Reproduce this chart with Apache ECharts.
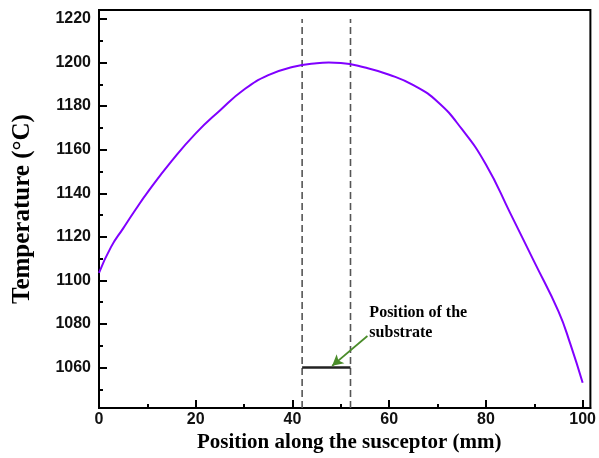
<!DOCTYPE html>
<html>
<head>
<meta charset="utf-8">
<script src="https://cdn.jsdelivr.net/npm/echarts@6/dist/echarts.min.js"></script>
<style>html,body{margin:0;padding:0;background:#fff}#c{width:599px;height:458px}</style>
</head>
<body>
<div id="c"></div>
<script>
// ---- data ----
const positions = [0, 2.5, 5, 7.5, 10, 15, 20, 25, 30, 35, 40, 45, 47.5, 50, 55, 60, 65, 70, 75, 80, 85, 90, 95, 97.5, 100];
const temperatures = [1103.5, 1115.4, 1123.9, 1132.3, 1140.3, 1154.7, 1167.5, 1178.0, 1187.6, 1194.2, 1197.9, 1199.7, 1200.0, 1199.8, 1197.7, 1194.4, 1189.6, 1182.0, 1169.5, 1153.2, 1131.0, 1108.5, 1085.8, 1070.5, 1053.0];
const xTickLabels = [0, 20, 40, 60, 80, 100];
const xMinorTicks = [10, 30, 50, 70, 90];
const yTickLabels = [1060, 1080, 1100, 1120, 1140, 1160, 1180, 1200, 1220];
const yMinorTicks = [1050, 1070, 1090, 1110, 1130, 1150, 1170, 1190, 1210];
const xRange = [0, 101.6];
const yRange = [1041.4, 1224.1];
const substrateEdges = [42, 52];
const substrateLevel = 1060;
const dashedSpan = [1041.4, 1220];
const arrowFrom = [55.5, 1074.5];
const arrowTo = [48.2, 1060.8];
const notePoint = [55.9, 1080.7];
const noteText = 'Position of the\nsubstrate';

const chart = echarts.init(document.getElementById('c'), null, {renderer: 'canvas'});
const sansBold = {fontFamily: 'Liberation Sans, Arial, sans-serif', fontWeight: 'bold', fontSize: 16, color: '#111'};
const serifBold = {fontFamily: 'Liberation Serif, Times New Roman, serif', fontWeight: 'bold', color: '#000'};
const plain = v => String(v);

const dashSeries = substrateEdges.map(x => ({
  type: 'line', data: [[x, dashedSpan[0]], [x, dashedSpan[1]]],
  showSymbol: false, symbol: 'none', silent: true,
  lineStyle: {color: '#555', width: 1.6, type: [7, 4]}
}));

chart.setOption({
  animation: false,
  grid: {left: 99, top: 10, right: 4, bottom: 49, show: true, borderColor: '#000', borderWidth: 2, backgroundColor: 'transparent'},
  xAxis: [{
    type: 'value', min: xRange[0], max: xRange[1],
    name: 'Position along the susceptor (mm)', nameLocation: 'middle', nameGap: 11,
    nameTextStyle: Object.assign({}, serifBold, {fontSize: 21, padding: [0, 0, 0, 9]}),
    axisLine: {show: true, onZero: false, lineStyle: {color: '#000', width: 2}},
    axisTick: {show: true, inside: true, length: 8, customValues: xTickLabels, lineStyle: {color: '#000', width: 2}},
    axisLabel: Object.assign({customValues: xTickLabels, margin: 3, formatter: plain}, sansBold),
    splitLine: {show: false}
  }, {
    type: 'value', min: xRange[0], max: xRange[1], position: 'bottom',
    axisLine: {show: false},
    axisTick: {show: true, inside: true, length: 4, customValues: xMinorTicks, lineStyle: {color: '#000', width: 2}},
    axisLabel: {show: false}, splitLine: {show: false}
  }],
  yAxis: [{
    type: 'value', min: yRange[0], max: yRange[1],
    name: 'Temperature (°C)', nameLocation: 'middle', nameGap: 64, nameRotate: 90,
    nameTextStyle: Object.assign({}, serifBold, {fontSize: 25}),
    axisLine: {show: true, onZero: false, lineStyle: {color: '#000', width: 2}},
    axisTick: {show: true, inside: true, length: 8, customValues: yTickLabels, lineStyle: {color: '#000', width: 2}},
    axisLabel: Object.assign({customValues: yTickLabels, margin: 8, formatter: plain}, sansBold),
    splitLine: {show: false}
  }, {
    type: 'value', min: yRange[0], max: yRange[1], position: 'left',
    axisLine: {show: false},
    axisTick: {show: true, inside: true, length: 4, customValues: yMinorTicks, lineStyle: {color: '#000', width: 2}},
    axisLabel: {show: false}, splitLine: {show: false}
  }],
  series: [
    ...dashSeries,
    {
      type: 'line', data: positions.map((x, i) => [x, temperatures[i]]),
      smooth: 0.5, showSymbol: false, symbol: 'none',
      lineStyle: {color: '#8000ff', width: 2}
    },
    {
      type: 'line', data: substrateEdges.map(x => [x, substrateLevel]),
      showSymbol: false, symbol: 'none',
      lineStyle: {color: '#222', width: 2.5},
      markLine: {
        silent: true, animation: false,
        symbol: ['none', 'arrow'], symbolSize: [9, 11],
        label: {show: false},
        lineStyle: {color: '#4a8c2a', width: 1.8, type: 'solid'},
        data: [[{coord: arrowFrom}, {coord: arrowTo}]]
      }
    }
  ]
});

const p = chart.convertToPixel({xAxisIndex: 0, yAxisIndex: 0}, notePoint);
chart.setOption({
  graphic: [{
    type: 'text', x: p[0], y: p[1], silent: true,
    style: {text: noteText, fill: '#000', font: 'bold 16px "Liberation Serif", "Times New Roman", serif',
      lineHeight: 20, align: 'left', verticalAlign: 'middle'}
  }]
});
</script>
</body>
</html>
